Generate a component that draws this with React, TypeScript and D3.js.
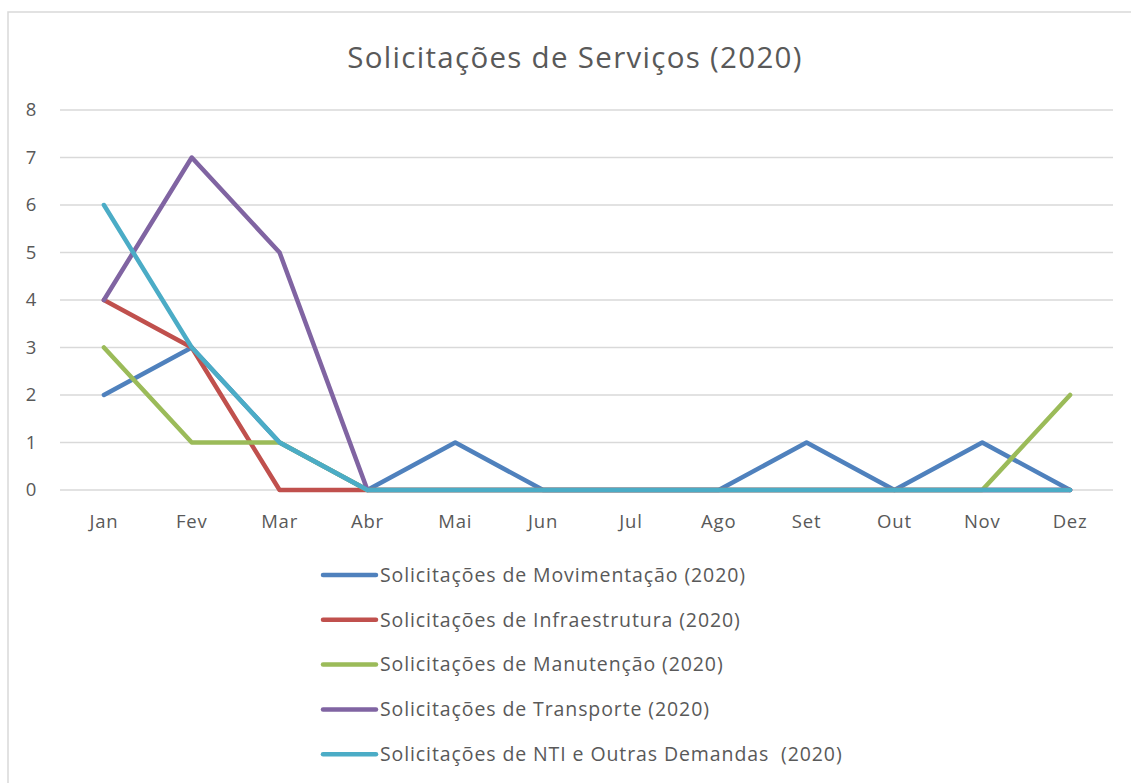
import React, { useEffect, useRef } from "react";
import * as d3 from "d3";

const months = ["Jan", "Fev", "Mar", "Abr", "Mai", "Jun", "Jul", "Ago", "Set", "Out", "Nov", "Dez"];
const seriesNames = [
  "Solicitações de Movimentação (2020)",
  "Solicitações de Infraestrutura (2020)",
  "Solicitações de Manutenção (2020)",
  "Solicitações de Transporte (2020)",
  "Solicitações de NTI e Outras Demandas  (2020)",
];
const movimentacao = [2, 3, 1, 0, 1, 0, 0, 0, 1, 0, 1, 0];
const infraestrutura = [4, 3, 0, 0, 0, 0, 0, 0, 0, 0, 0, 0];
const manutencao = [3, 1, 1, 0, 0, 0, 0, 0, 0, 0, 0, 2];
const transporte = [4, 7, 5, 0, 0, 0, 0, 0, 0, 0, 0, 0];
const ntiOutras = [6, 3, 1, 0, 0, 0, 0, 0, 0, 0, 0, 0];
const yTicks = [0, 1, 2, 3, 4, 5, 6, 7, 8];
const colors = ["#4F81BD", "#C0504D", "#9BBB59", "#8064A2", "#4BACC6"];
const title = "Solicitações de Serviços (2020)";

export default function App() {
  const ref = useRef<SVGSVGElement>(null);
  useEffect(() => {
    const svg = d3.select(ref.current);
    svg.selectAll("*").remove();
    const W = 1131, H = 783;
    const font = "'Open Sans', sans-serif";
    const textColor = "#595959";
    const allSeries = [movimentacao, infraestrutura, manutencao, transporte, ntiOutras];

    svg.append("rect").attr("width", W).attr("height", H).attr("fill", "#fff");
    svg.append("path")
      .attr("d", `M8,${H + 5} L8,12 L${W + 5},12`)
      .attr("fill", "none").attr("stroke", "#D9D9D9").attr("stroke-width", 1.5);

    svg.append("text").attr("x", 575).attr("y", 68).attr("text-anchor", "middle")
      .attr("font-family", font).attr("font-size", 29.5).attr("letter-spacing", 1.3)
      .attr("fill", textColor).text(title);

    const x = d3.scaleBand<string>().domain(months).range([60, 1114]);
    const y = d3.scaleLinear().domain([0, 8]).range([490, 110]);

    const grid = svg.append("g");
    yTicks.forEach((t) => {
      grid.append("line").attr("x1", 60).attr("x2", 1113).attr("y1", y(t)).attr("y2", y(t))
        .attr("stroke", "#D9D9D9").attr("stroke-width", 1.5);
      svg.append("text").attr("x", 31).attr("y", y(t)).attr("dy", "0.35em").attr("text-anchor", "middle")
        .attr("font-family", font).attr("font-size", 18.5).attr("fill", textColor).text(String(t));
    });
    months.forEach((m) => {
      svg.append("text").attr("x", x(m)! + x.bandwidth() / 2).attr("y", 522).attr("dy", "0.35em")
        .attr("text-anchor", "middle").attr("font-family", font).attr("font-size", 18.5)
        .attr("letter-spacing", 0.8).attr("fill", textColor).text(m);
    });

    const line = d3.line<number>()
      .x((_, i) => x(months[i])! + x.bandwidth() / 2)
      .y((d) => y(d));
    allSeries.forEach((s, i) => {
      svg.append("path").datum(s).attr("d", line).attr("fill", "none")
        .attr("stroke", colors[i]).attr("stroke-width", 4.5)
        .attr("stroke-linejoin", "round").attr("stroke-linecap", "round");
    });

    seriesNames.forEach((name, i) => {
      const ly = 575 + i * 44.8;
      svg.append("line").attr("x1", 323).attr("x2", 376).attr("y1", ly).attr("y2", ly)
        .attr("stroke", colors[i]).attr("stroke-width", 4.5).attr("stroke-linecap", "round");
      svg.append("text").attr("x", 380).attr("y", ly).attr("dy", "0.35em")
        .attr("font-family", font).attr("font-size", 19.5).attr("letter-spacing", 0.9)
        .attr("fill", textColor).style("white-space", "pre").text(name);
    });
  }, []);
  return (
    <svg ref={ref} width={1131} height={783}
      style={{ position: "absolute", left: 0, top: 0, display: "block" }} />
  );
}
